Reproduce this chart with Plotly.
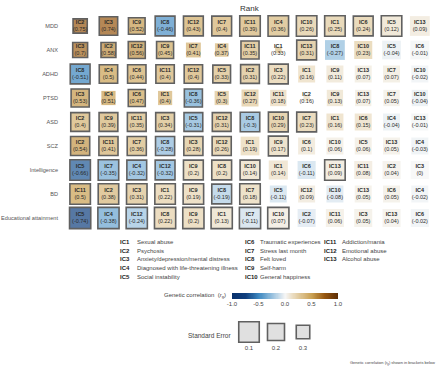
import plotly.graph_objects as go

W, H = 440, 369
def px(x): return x / W
def py(y): return 1 - y / H

rows = ["MDD", "ANX", "ADHD", "PTSD", "ASD", "SCZ", "Intelligence", "BD", "Educational attainment"]
ranks = list(range(1, 14))

ic_mdd = [2, 3, 9, 8, 12, 7, 11, 4, 10, 1, 6, 5, 13]
rg_mdd = [0.75, 0.74, 0.52, -0.46, 0.43, 0.4, 0.39, 0.36, 0.26, 0.25, 0.24, 0.12, 0.09]
se_mdd = [0.28, 0.16, 0.21, 0.12, 0.12, 0.12, 0.1, 0.1, 0.1, 0.1, 0.12, 0.1, 0.12]
sig_mdd = [1, 1, 1, 1, 1, 1, 1, 1, 1, 1, 1, 1, 0]

ic_anx = [3, 2, 12, 9, 7, 4, 11, 1, 13, 8, 10, 5, 6]
rg_anx = [0.7, 0.58, 0.56, 0.45, 0.41, 0.37, 0.35, 0.33, 0.31, -0.27, 0.23, -0.04, -0.01]
se_anx = [0.26, 0.26, 0.2, 0.2, 0.26, 0.3, 0.17, 0.5, 0.12, 0.12, 0.17, 0.15, 0.15]
sig_anx = [1, 1, 1, 1, 0, 0, 1, 0, 1, 0, 0, 0, 0]

ic_adhd = [8, 4, 6, 11, 12, 5, 2, 3, 1, 9, 13, 7, 10]
rg_adhd = [-0.51, 0.5, 0.44, 0.4, 0.4, 0.33, 0.31, 0.22, 0.16, 0.11, 0.07, 0.07, -0.02]
se_adhd = [0.12, 0.16, 0.16, 0.16, 0.16, 0.18, 0.15, 0.12, 0.2, 0.2, 0.2, 0.2, 0.2]
sig_adhd = [1, 1, 1, 1, 1, 1, 1, 1, 0, 0, 0, 0, 0]

ic_ptsd = [3, 4, 6, 1, 8, 5, 12, 11, 2, 9, 13, 7, 10]
rg_ptsd = [0.53, 0.51, 0.47, 0.4, -0.36, 0.3, 0.27, 0.18, 0.16, 0.13, 0.07, 0.05, -0.04]
se_ptsd = [0.17, 0.28, 0.2, 0.28, 0.17, 0.28, 0.2, 0.22, 0.5, 0.22, 0.22, 0.22, 0.22]
sig_ptsd = [1, 0, 1, 0, 1, 0, 0, 0, 0, 0, 0, 0, 0]

ic_asd = [2, 9, 11, 3, 5, 12, 8, 10, 7, 1, 6, 4, 13]
rg_asd = [0.4, 0.39, 0.35, 0.34, -0.31, 0.31, -0.3, 0.29, 0.23, 0.16, 0.15, -0.04, -0.01]
se_asd = [0.15, 0.15, 0.15, 0.15, 0.15, 0.15, 0.13, 0.12, 0.12, 0.2, 0.2, 0.2, 0.2]
sig_asd = [1, 1, 1, 1, 1, 1, 1, 1, 1, 0, 0, 0, 0]

ic_scz = [2, 11, 7, 8, 3, 12, 1, 9, 6, 10, 5, 13, 4]
rg_scz = [0.54, 0.41, 0.36, -0.28, 0.28, 0.26, 0.19, 0.17, 0.1, 0.06, 0.06, 0.05, -0.03]
se_scz = [0.14, 0.14, 0.14, 0.14, 0.14, 0.14, 0.15, 0.12, 0.2, 0.2, 0.2, 0.2, 0.2]
sig_scz = [1, 1, 1, 1, 1, 1, 0, 1, 0, 0, 0, 0, 0]

ic_int = [5, 7, 4, 12, 9, 8, 10, 1, 6, 13, 11, 2, 3]
rg_int = [-0.66, -0.35, -0.32, -0.32, 0.2, 0.2, 0.14, 0.14, -0.11, 0.09, 0.08, 0.04, 0]
se_int = [0.1, 0.1, 0.12, 0.12, 0.12, 0.12, 0.12, 0.14, 0.17, 0.1, 0.17, 0.17, 0.17]
sig_int = [1, 1, 1, 1, 1, 1, 1, 0, 0, 1, 0, 0, 0]

ic_bd = [11, 2, 3, 1, 9, 8, 7, 5, 12, 10, 13, 6, 4]
rg_bd = [0.5, 0.38, 0.31, 0.22, 0.19, -0.19, 0.18, -0.11, 0.09, -0.08, 0.05, 0.05, -0.02]
se_bd = [0.1, 0.1, 0.1, 0.1, 0.1, 0.12, 0.1, 0.2, 0.2, 0.2, 0.2, 0.2, 0.2]
sig_bd = [1, 1, 1, 1, 1, 1, 1, 0, 0, 0, 0, 0, 0]

ic_ea = [5, 4, 12, 8, 9, 1, 7, 10, 2, 11, 3, 13, 6]
rg_ea = [-0.74, -0.38, -0.24, 0.22, 0.2, 0.13, -0.11, 0.07, -0.07, 0.06, 0.05, 0.04, -0.02]
se_ea = [0.08, 0.08, 0.08, 0.08, 0.08, 0.08, 0.08, 0.08, 0.17, 0.17, 0.17, 0.17, 0.17]
sig_ea = [1, 1, 1, 1, 1, 1, 1, 1, 0, 0, 0, 0, 0]

ic_names = ["Sexual abuse", "Psychosis", "Anxiety/depression/mental distress",
            "Diagnosed with life-threatening illness", "Social instability",
            "Traumatic experiences", "Stress last month", "Felt loved", "Self-harm",
            "General happiness", "Addiction/mania", "Emotional abuse", "Alcohol abuse"]

se_legend = [0.1, 0.2, 0.3]
cbar_ticks = [-1.0, -0.5, 0.0, 0.5, 1.0]

all_ic = [ic_mdd, ic_anx, ic_adhd, ic_ptsd, ic_asd, ic_scz, ic_int, ic_bd, ic_ea]
all_rg = [rg_mdd, rg_anx, rg_adhd, rg_ptsd, rg_asd, rg_scz, rg_int, rg_bd, rg_ea]
all_se = [se_mdd, se_anx, se_adhd, se_ptsd, se_asd, se_scz, se_int, se_bd, se_ea]
all_sig = [sig_mdd, sig_anx, sig_adhd, sig_ptsd, sig_asd, sig_scz, sig_int, sig_bd, sig_ea]

def se_size(s):
    return max(24.0 - 35.0 * s, 2.0)

def fmt(v):
    return f"{v:g}"

colorscale = [
    [0.0, "#08306b"], [0.13, "#0f3f7e"], [0.25, "#3c87c0"], [0.37, "#93bedd"],
    [0.5, "#f5f5f5"], [0.6, "#e6d3ae"], [0.75, "#c9a052"], [0.87, "#97570f"],
    [1.0, "#5a2c06"],
]

FONT = "Liberation Sans, Arial, sans-serif"

xs, ys, cs, sz, lw, tx = [], [], [], [], [], []
for r, name in enumerate(rows):
    for k in range(13):
        xs.append(ranks[k])
        ys.append(name)
        cs.append(all_rg[r][k])
        sz.append(se_size(all_se[r][k]))
        lw.append(1.6 if all_sig[r][k] else 0)
        tx.append(f"<b>IC{all_ic[r][k]}</b><br>({fmt(all_rg[r][k])})")

fig = go.Figure()
fig.add_trace(go.Scatter(
    x=xs, y=ys, mode="markers+text", text=tx, textposition="middle center",
    textfont=dict(size=5.5, color="#2a2a2a", family=FONT),
    marker=dict(symbol="square", size=sz, color=cs, colorscale=colorscale,
                cmin=-1, cmax=1, showscale=False, line=dict(width=lw, color="#1e1e1e")),
    hoverinfo="skip", showlegend=False, cliponaxis=False,
))

# Standard error legend
fig.add_trace(go.Scatter(
    x=[0, 1, 2], y=[0, 0, 0], mode="markers", xaxis="x2", yaxis="y2",
    marker=dict(symbol="square", size=[se_size(s) for s in se_legend], color="#d3d3d3",
                line=dict(width=1.6, color="#1e1e1e")),
    hoverinfo="skip", showlegend=False, cliponaxis=False,
))

# Colour bar drawn as a heatmap over the correlation range
nb = 201
grad = [-1 + 2 * i / (nb - 1) for i in range(nb)]
fig.add_trace(go.Heatmap(
    x=grad, y=[0], z=[grad], colorscale=colorscale, zmin=-1, zmax=1,
    showscale=False, xaxis="x3", yaxis="y3", hoverinfo="skip",
))

noax = dict(showgrid=False, zeroline=False, showline=False, ticks="", automargin=False)
fig.update_layout(
    width=W, height=H, margin=dict(l=0, r=0, t=0, b=0, autoexpand=False),
    paper_bgcolor="white", plot_bgcolor="white",
    font=dict(family=FONT, color="#333"),
    xaxis=dict(domain=[px(66), px(434)], range=[0.5, 13.5], visible=False,
               automargin=False),
    yaxis=dict(domain=[py(230), py(14)], type="category", categoryorder="array",
               categoryarray=rows, range=[8.5, -0.5],
               tickfont=dict(size=5.6, color="#555", family=FONT),
               ticklabelstandoff=7, **noax),
    xaxis2=dict(domain=[px(235.5), px(316.5)], range=[-0.5, 2.5], anchor="y2",
                tickvals=[0, 1, 2], ticktext=[fmt(s) for s in se_legend],
                tickfont=dict(size=6, color="#444", family=FONT), **noax),
    yaxis2=dict(domain=[py(343), py(321)], range=[-1, 1], anchor="x2", visible=False,
                automargin=False),
    xaxis3=dict(domain=[px(232), px(338)], range=[-1, 1], anchor="y3",
                tickvals=cbar_ticks, ticktext=[f"{t:.1f}" for t in cbar_ticks],
                tickfont=dict(size=6, color="#444", family=FONT), **noax),
    yaxis3=dict(domain=[py(299), py(293)], anchor="x3", visible=False, automargin=False),
)

ann = [dict(x=px(250), y=py(8), text="Rank", showarrow=False, xanchor="center",
            yanchor="middle", font=dict(size=8, color="#333"))]
cols = [(118, 135, range(0, 5)), (243, 258, range(5, 10)), (322, 340, range(10, 13))]
for xc, xd, idxs in cols:
    for j, i in enumerate(idxs):
        yy = 242 + j * 8.7
        ann.append(dict(x=px(xc), y=py(yy), text=f"<b>IC{i + 1}</b>", showarrow=False,
                        xanchor="left", yanchor="middle", font=dict(size=6, color="#222")))
        ann.append(dict(x=px(xd), y=py(yy), text=ic_names[i], showarrow=False,
                        xanchor="left", yanchor="middle", font=dict(size=6, color="#444")))
ann.append(dict(x=px(228), y=py(295), text="Genetic correlation  (<i>r</i><sub>g</sub>)",
                showarrow=False, xanchor="right", yanchor="middle",
                font=dict(size=6, color="#444")))
ann.append(dict(x=px(233), y=py(335), text="Standard Error", showarrow=False,
                xanchor="right", yanchor="middle", font=dict(size=6.5, color="#444")))
ann.append(dict(x=px(437), y=py(363), text="Genetic correlation (<i>r</i><sub>g</sub>) shown in brackets below",
                showarrow=False, xanchor="right", yanchor="middle",
                font=dict(size=4, color="#444")))
for a in ann:
    a.update(xref="paper", yref="paper")
fig.update_layout(annotations=ann)

fig.write_html("out.html", config={"displayModeBar": False, "staticPlot": True},
               post_script="document.body.style.margin='0px';")
